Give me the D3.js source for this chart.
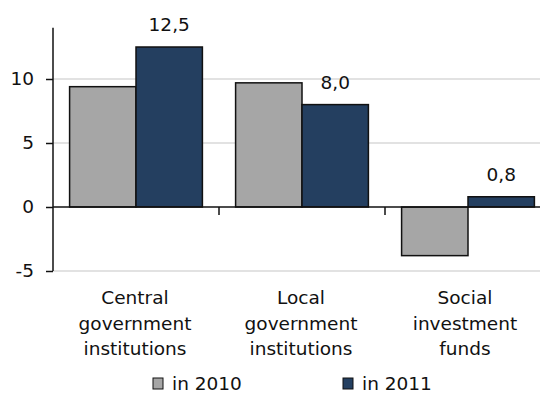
<!DOCTYPE html>
<html>
<head>
<meta charset="utf-8">
<script src="https://cdn.jsdelivr.net/npm/d3@7"></script>
<style>
  html, body { margin: 0; padding: 0; background: #fff; }
  svg { display: block; }
  text { font-family: "DejaVu Sans", Verdana, sans-serif; fill: #111; }
</style>
</head>
<body>
<svg id="chart" width="540" height="403"></svg>
<script>
const categories = [
  ["Central", "government", "institutions"],
  ["Local", "government", "institutions"],
  ["Social", "investment", "funds"]
];
const seriesNames = ["in 2010", "in 2011"];
const values2010 = [9.4, 9.7, -3.8];
const values2011 = [12.5, 8.0, 0.8];
const labels2011 = ["12,5", "8,0", "0,8"];
const yTicks = [-5, 0, 5, 10];

const colors = ["#a6a6a6", "#243f60"];
const svg = d3.select("#chart");
const W = 540, H = 403;
const FS = 18.5;

const catKeys = categories.map((c, i) => i);
const x0 = d3.scaleBand().domain(catKeys).range([53, 551]).padding(0);
const bw = x0.bandwidth();
const x1 = d3.scaleBand().domain([0, 1]).range([bw * 0.1, bw * 0.9]).padding(0);
const y = d3.scaleLinear().domain([-5, 14]).range([271, 27.8]);

// gridlines
svg.append("g").selectAll("line").data(yTicks.filter(d => d !== 0)).join("line")
  .attr("x1", 53).attr("x2", W)
  .attr("y1", d => y(d)).attr("y2", d => y(d))
  .attr("stroke", "#d9d9d9").attr("stroke-width", 1.5);

// bars
const series = [values2010, values2011];
const g = svg.append("g");
series.forEach((vals, s) => {
  g.selectAll(".b" + s).data(vals).join("rect")
    .attr("x", (d, i) => x0(i) + x1(s))
    .attr("width", x1.bandwidth())
    .attr("y", d => y(Math.max(0, d)))
    .attr("height", d => Math.abs(y(d) - y(0)))
    .attr("fill", colors[s])
    .attr("stroke", "#111")
    .attr("stroke-width", 1.5);
});

// data labels for 2011
svg.append("g").selectAll("text").data(values2011).join("text")
  .attr("x", (d, i) => x0(i) + x1(1) + x1.bandwidth() / 2)
  .attr("y", d => y(Math.max(0, d)) - 16)
  .attr("text-anchor", "middle")
  .attr("font-size", FS)
  .text((d, i) => labels2011[i]);

// y axis
const yAxis = d3.axisLeft(y).tickValues(yTicks).tickSize(7).tickPadding(12).tickFormat(d => String(d));
const ya = svg.append("g").attr("transform", "translate(53,0)").call(yAxis);
ya.select(".domain").remove();
ya.selectAll(".tick line").attr("stroke", "#111").attr("stroke-width", 1.5);
ya.selectAll(".tick text").attr("font-size", FS).attr("font-family", "DejaVu Sans").attr("fill", "#111");
svg.append("line").attr("x1", 53).attr("x2", 53).attr("y1", y(14)).attr("y2", y(-5))
  .attr("stroke", "#111").attr("stroke-width", 1.5);

// x axis at zero
const xAxis = d3.axisBottom(x0).tickSize(0).tickFormat("");
const xa = svg.append("g").attr("transform", `translate(0,${y(0)})`).call(xAxis);
xa.select(".domain").remove();
svg.append("line").attr("x1", 53).attr("x2", W).attr("y1", y(0)).attr("y2", y(0))
  .attr("stroke", "#111").attr("stroke-width", 1.5);
svg.append("g").selectAll("line").data(catKeys.slice(1)).join("line")
  .attr("x1", d => x0(d)).attr("x2", d => x0(d))
  .attr("y1", y(0)).attr("y2", y(0) + 8)
  .attr("stroke", "#111").attr("stroke-width", 1.5);

// category labels
const cl = svg.append("g").selectAll("text").data(categories).join("text")
  .attr("text-anchor", "middle")
  .attr("font-size", FS)
  .attr("x", (d, i) => x0(i) + bw / 2 + (i === 2 ? -3 : -1))
  .attr("y", 304);
cl.selectAll("tspan").data(d => d).join("tspan")
  .attr("x", function() { return this.parentNode.getAttribute("x"); })
  .attr("dy", (d, j) => j === 0 ? 0 : 25.5)
  .text(d => d);

// legend
const legendX = [153, 343];
const lg = svg.append("g");
seriesNames.forEach((name, s) => {
  lg.append("rect").attr("x", legendX[s]).attr("y", 378).attr("width", 10).attr("height", 11)
    .attr("fill", colors[s]).attr("stroke", "#111").attr("stroke-width", 1);
  lg.append("text").attr("x", legendX[s] + 19).attr("y", 390)
    .attr("font-size", FS).text(name);
});
</script>
</body>
</html>
